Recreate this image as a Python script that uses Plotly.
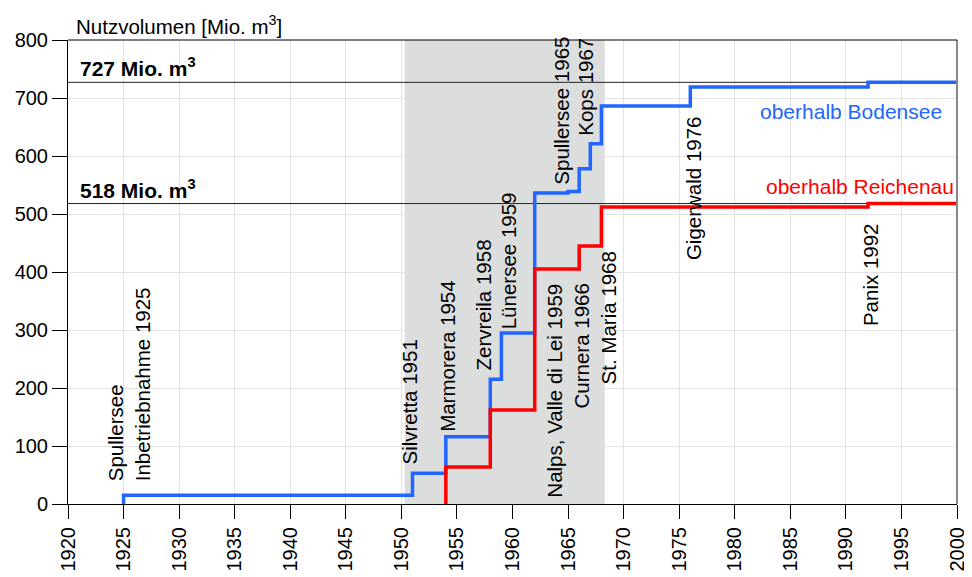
import plotly.graph_objects as go

# Data
blue_years = [1925, 1925, 1951, 1954, 1958, 1959, 1962, 1965, 1966, 1967, 1968, 1976, 1992, 2000]
blue_values = [0, 15, 53, 116, 215, 295, 536, 539, 578, 621, 686, 719, 727, 727]
red_years = [1954, 1954, 1958, 1962, 1966, 1968, 1992, 2000]
red_values = [0, 64, 162, 405, 445, 512, 518, 518]
ref_values = [727, 518]
ref_labels = ["<b>727 Mio. m<sup>3</sup></b>", "<b>518 Mio. m<sup>3</sup></b>"]
shade_range = [1950.3, 1968.3]

event_labels = ["Spullersee<br>Inbetriebnahme 1925", "Silvretta 1951", "Marmorera 1954",
                "Zervreila 1958", "Lünersee 1959", "Nalps, Valle di Lei 1959",
                "Curnera 1966", "St. Maria 1968", "Spullersee 1965", "Kops 1967",
                "Gigerwald 1976", "Panix 1992"]
event_x = [1925.5, 1950.7, 1954.2, 1957.35, 1959.6, 1963.8, 1966.25, 1968.6, 1964.45, 1966.5, 1976.24, 1992.2]
event_y = [36, 64, 121, 226, 297, 7, 162, 202, 547, 631, 417, 303]

x_ticks = list(range(1920, 2001, 5))
y_ticks = list(range(0, 801, 100))

BLUE = "#2266ff"
RED = "#ff0000"
FONT = "Liberation Sans, Arial, sans-serif"

fig = go.Figure()
fig.add_trace(go.Scatter(x=blue_years, y=blue_values, mode="lines", line=dict(color=BLUE, width=3.5, shape="hv"),
                         showlegend=False, hoverinfo="skip", cliponaxis=False))
fig.add_trace(go.Scatter(x=red_years, y=red_values, mode="lines", line=dict(color=RED, width=3.5, shape="hv"),
                         showlegend=False, hoverinfo="skip", cliponaxis=False))

shapes = [dict(type="rect", xref="x", yref="y", x0=shade_range[0], x1=shade_range[1], y0=0, y1=800,
               fillcolor="#dcdddd", line=dict(width=0), layer="between")]
for v in ref_values:
    shapes.append(dict(type="line", xref="x", yref="y", x0=1920, x1=2000, y0=v, y1=v,
                       line=dict(color="#222222", width=1), layer="between"))
# right border in grey
shapes.append(dict(type="line", xref="paper", yref="paper", x0=1, x1=1, y0=0, y1=1,
                   line=dict(color="#888888", width=2), layer="above"))
# top border
shapes.append(dict(type="line", xref="paper", yref="paper", x0=0, x1=1, y0=1, y1=1,
                   line=dict(color="black", width=1), layer="above"))

annotations = []
for t, x, y in zip(event_labels, event_x, event_y):
    annotations.append(dict(x=x, y=y, xref="x", yref="y", text=t, textangle=-90, showarrow=False,
                            xanchor="center", yanchor="bottom", align="left",
                            font=dict(family=FONT, size=20.5, color="black")))
for t, v in zip(ref_labels, ref_values):
    annotations.append(dict(x=1920.9, y=v, xref="x", yref="y", text=t, showarrow=False,
                            xanchor="left", yanchor="bottom", font=dict(family=FONT, size=21, color="black")))
annotations.append(dict(x=1998.8, y=676, xref="x", yref="y", text="oberhalb Bodensee", showarrow=False,
                        xanchor="right", yanchor="middle", font=dict(family=FONT, size=21, color=BLUE)))
annotations.append(dict(x=1999.9, y=547, xref="x", yref="y", text="oberhalb Reichenau", showarrow=False,
                        xanchor="right", yanchor="middle", font=dict(family=FONT, size=21, color=RED)))
annotations.append(dict(x=(74 - 68) / 889, y=1.0, xref="paper", yref="paper", text="Nutzvolumen [Mio. m<sup>3</sup>]",
                        showarrow=False, xanchor="left", yanchor="bottom", yshift=0,
                        font=dict(family=FONT, size=20.5, color="black")))

fig.update_layout(
    width=964, height=569,
    margin=dict(l=60, r=15, t=32, b=73, autoexpand=False),
    paper_bgcolor="white", plot_bgcolor="white",
    font=dict(family=FONT, size=20, color="black"),
    shapes=shapes, annotations=annotations,
    xaxis=dict(range=[1920, 2000], tickvals=x_ticks, ticktext=[str(t) for t in x_ticks], tickangle=-90,
               showgrid=True, gridcolor="#e3e3e3", gridwidth=1, zeroline=False, automargin=False,
               showline=True, linecolor="black", linewidth=1, mirror=False,
               ticks="outside", ticklen=14, tickcolor="black", tickfont=dict(size=20)),
    yaxis=dict(range=[0, 800], tickvals=y_ticks, showgrid=True, gridcolor="#e3e3e3", gridwidth=1, zeroline=False,
               automargin=False,
               showline=True, linecolor="black", linewidth=1,
               ticks="outside", ticklen=15, tickcolor="black", tickfont=dict(size=20)),
)

fig.write_html("out.html")
